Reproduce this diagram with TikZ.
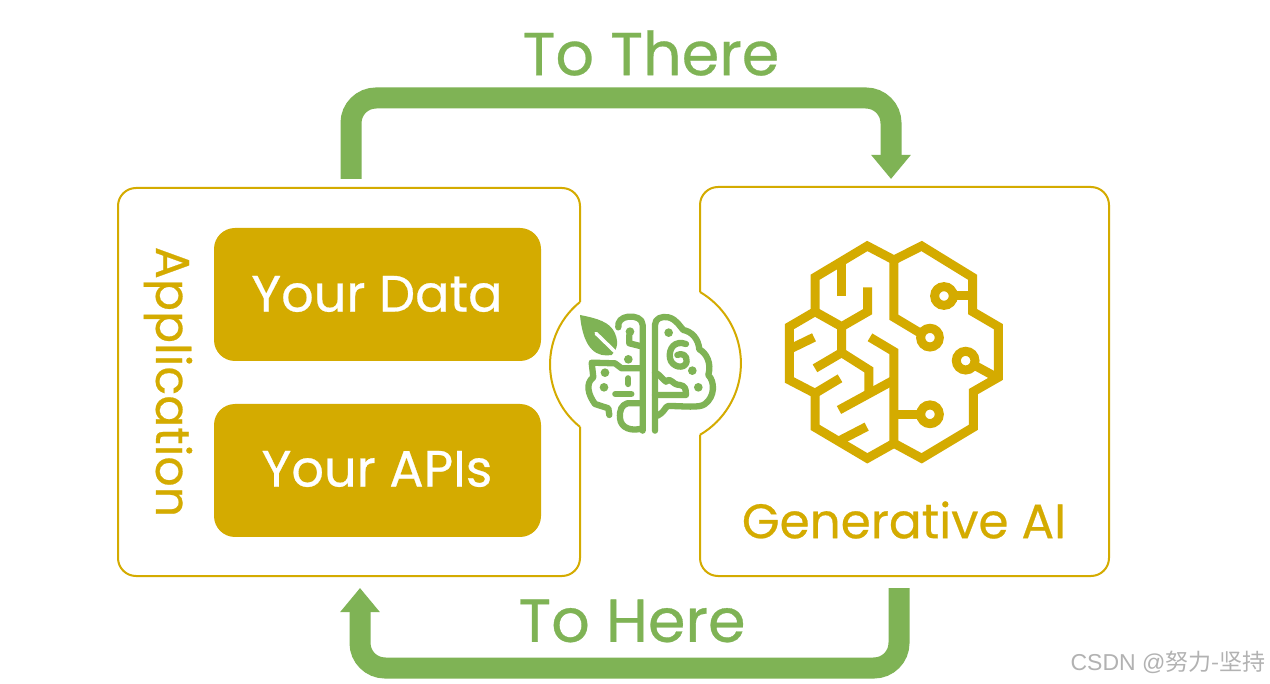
\documentclass[tikz,border=0pt]{standalone}
\usepackage{fontspec}
\setmainfont{Poppins}[FakeBold=0.5]
\newfontfamily\wmfont{Liberation Sans}
\newfontfamily\cjkfont{Noto Sans CJK SC}
\usetikzlibrary{arrows.meta}
\definecolor{gold}{HTML}{D4AB00}
\definecolor{leaf}{HTML}{7FB355}
\newcommand{\fsz}[1]{\fontsize{#1}{#1}\selectfont}
\tikzset{
  frame/.style={draw=gold,line width=2pt,fill=none},
  block/.style={fill=gold,rounded corners=21pt,draw=none,minimum width=327pt,minimum height=133pt,inner sep=0pt},
  flow/.style={draw=leaf,line width=21pt,rounded corners=25pt,-{Triangle[length=24pt,width=38pt]}},
  bigtext/.style={text=leaf,inner sep=0pt,font=\fsz{60.5}},
  goldtext/.style={text=gold,inner sep=0pt,font=\fsz{48.5}},
  whitetext/.style={text=white,inner sep=0pt,font=\fsz{51}},
  bigbrain/.style={draw=gold,line width=9pt,line join=miter,fill=none},
  smallbrain/.style={draw=leaf,line width=6.3pt,line join=round,line cap=round,fill=none},
}
\begin{document}
\begin{tikzpicture}[x=1pt,y=-1pt]
\useasboundingbox[fill=white] (0,0) rectangle (1270,684);
% frames
\draw[frame,rounded corners=18pt] (580,302) -- (580,188) -- (118,188) -- (118,576) -- (580,576) -- (580,427);
\draw[frame] (580,302) arc[start angle=231.3,end angle=128.7,radius=80];
\draw[frame,rounded corners=18pt] (700,292) -- (700,187) -- (1109,187) -- (1109,576) -- (700,576) -- (700,435);
\draw[frame] (700,292) arc[start angle=-59.6,end angle=59.6,radius=82.8];
% blocks
\node[block] (data) at (377.5,294.5) {};
\node[block] (apis) at (377.5,470.5) {};
\node[whitetext] (datat) at (377,294) {Your Data};
\node[whitetext] (apist) at (377,469) {Your APIs};
\node[goldtext,font=\fsz{47.5},rotate=-90] (app) at (168,382) {Application};
\node[goldtext] (gen) at (904,520) {Generative AI};
% arrows
\coordinate (ts) at (351,179);
\coordinate (te) at (891,179);
\coordinate (hs) at (899,588);
\coordinate (he) at (360,588);
\draw[flow] (ts) -- (351,98) -- (891,98) -- (te);
\draw[flow] (hs) -- (899,668) -- (360,668) -- (he);
\node[bigtext] (there) at (651,53) {To There};
\node[bigtext] (here) at (632,621) {To Here};
% big brain
\begin{scope}[shift={(770,230)},x=0.3333pt,y=-0.3333pt]
\draw[bigbrain] (372,90) -- (292,48) -- (135,142) -- (135,245) -- (58,290) -- (58,450) -- (135,490) -- (135,592) -- (292,685) -- (372,640) -- (455,685) -- (610,592) -- (610,485) -- (685,442) -- (685,290) -- (608,245) -- (608,142) -- (455,48) -- cycle;
\draw[bigbrain] (372,90) -- (372,262) -- (452,310);
\draw[bigbrain] (300,322) -- (372,365) -- (372,640);
\draw[bigbrain] (372,553) -- (450,553);
\draw[bigbrain] (480,323) circle[radius=28];
\draw[bigbrain] (480,553) circle[radius=28];
\draw[bigbrain] (522,198) circle[radius=28];
\draw[bigbrain] (587,392) circle[radius=28];
\draw[bigbrain] (550,198) -- (608,198);
\draw[bigbrain] (612,405) -- (685,445);
\draw[bigbrain] (215,94) -- (215,198);
\draw[bigbrain] (293,172) -- (293,245) -- (215,290) -- (135,245);
\draw[bigbrain] (215,290) -- (215,368) -- (135,415);
\draw[bigbrain] (215,368) -- (297,420) -- (297,490);
\draw[bigbrain] (372,450) -- (207,540);
\draw[bigbrain] (58,358) -- (132,322);
\draw[bigbrain] (135,490) -- (210,445);
\draw[bigbrain] (205,634) -- (290,590);
\end{scope}
% small brain
\begin{scope}[shift={(540,280)},x=0.3333pt,y=-0.3333pt]
\fill[leaf] (120,105) .. controls (170,115) and (210,125) .. (225,160) .. controls (240,195) and (225,215) .. (215,225) .. controls (175,232) and (130,215) .. (120,105) -- cycle;
\draw[draw=white,line width=3.5pt,line cap=round] (168,160) -- (232,222);
\draw[smallbrain] (345,452) -- (345,135) .. controls (345,115) and (365,108) .. (385,112) .. controls (410,118) and (420,140) .. (430,150) .. controls (455,155) and (475,175) .. (478,208) .. controls (500,220) and (515,250) .. (505,285) .. controls (525,305) and (525,350) .. (495,372) .. controls (480,385) and (430,378) .. (385,378) .. controls (375,378) and (375,400) .. (345,410);
\draw[smallbrain] (438,192) .. controls (405,180) and (385,205) .. (390,235) .. controls (395,262) and (435,270) .. (440,245) .. controls (442,225) and (425,218) .. (412,225);
\draw[smallbrain] (345,277) .. controls (360,285) and (365,295) .. (378,305) .. controls (395,290) and (395,315) .. (420,315) .. controls (435,318) and (438,325) .. (438,345) -- (345,345);
\fill[leaf] (386,158) circle[radius=13];
\fill[leaf] (457,272) circle[radius=13];
\fill[leaf] (475,322) circle[radius=13];
\draw[smallbrain] (308,452) -- (308,135) .. controls (308,115) and (285,108) .. (265,110) .. controls (245,112) and (232,125) .. (235,142);
\draw[smallbrain] (308,200) -- (268,190) -- (268,165);
\fill[leaf] (270,155) circle[radius=13];
\fill[leaf] (265,238) circle[radius=13];
\draw[smallbrain] (308,265) -- (245,265) -- (225,250) -- (155,248) -- (160,292) .. controls (135,310) and (145,345) .. (165,372) -- (205,385) -- (208,405);
\fill[leaf] (195,278) circle[radius=13];
\fill[leaf] (192,322) circle[radius=13];
\draw[smallbrain] (226,342) -- (274,342);
\draw[smallbrain] (265,295) -- (265,312);
\draw[smallbrain] (308,370) -- (262,370) .. controls (245,375) and (238,390) .. (240,415) .. controls (243,445) and (275,455) .. (308,445);
\end{scope}
% watermark
\node[text=black!30,inner sep=0pt,font=\fsz{23}] (wm) at (1168,662) {\wmfont CSDN @\cjkfont 努力-坚持};
\end{tikzpicture}
\end{document}
